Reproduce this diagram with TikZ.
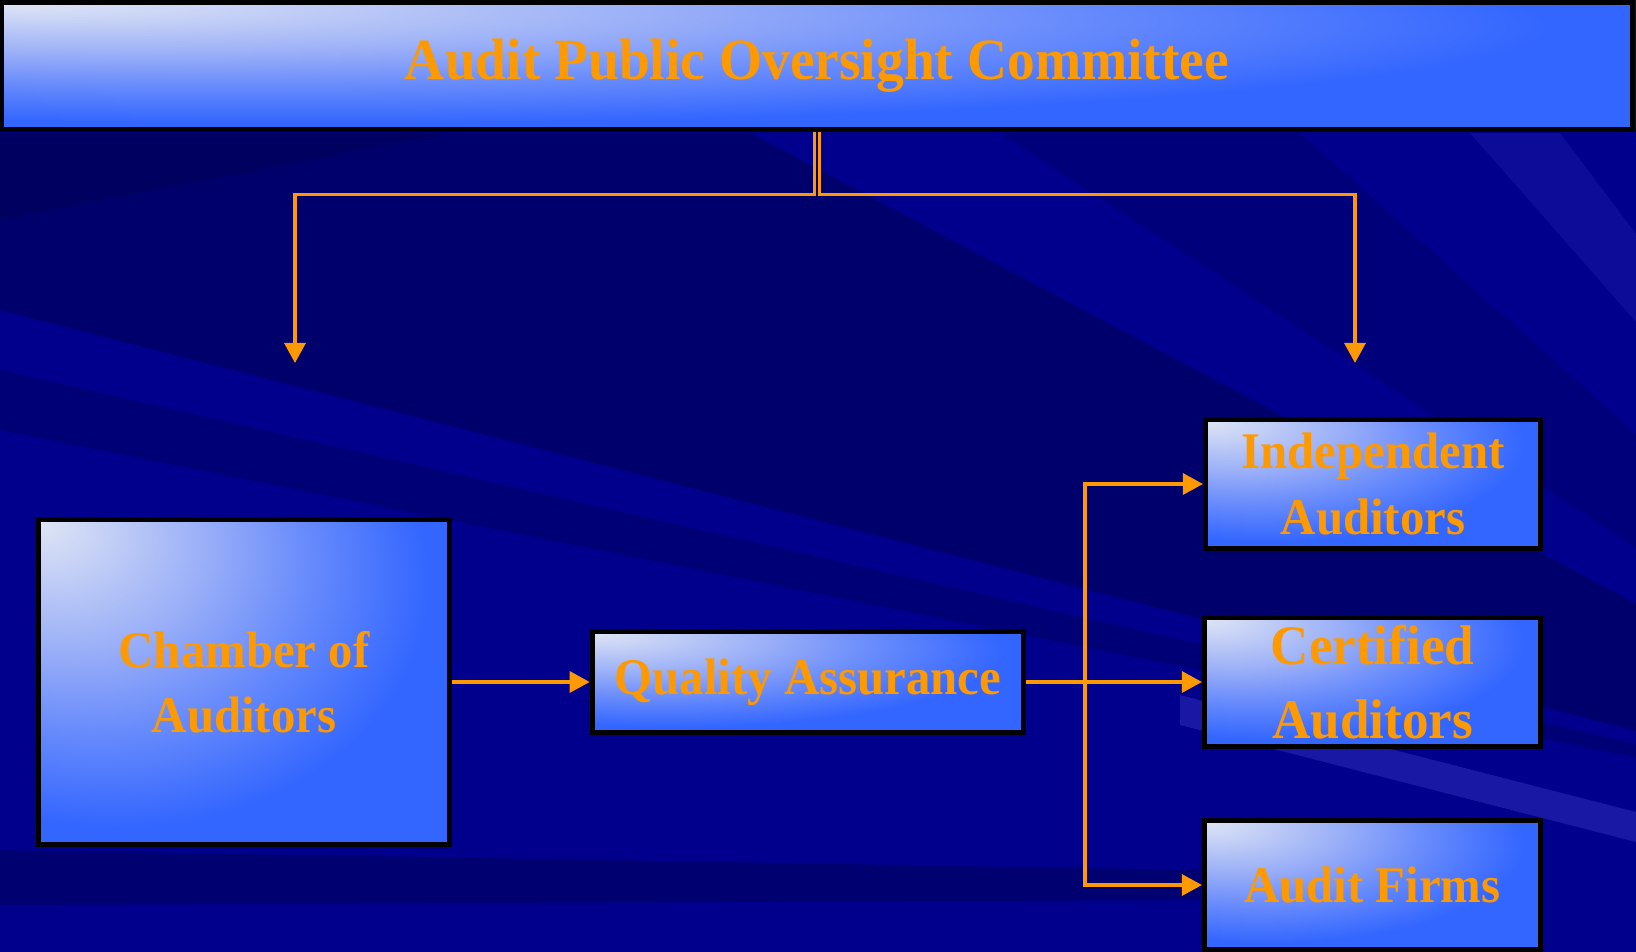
\documentclass[tikz,border=0pt]{standalone}
\usepackage{fontspec}
\setmainfont{Liberation Serif}[FakeStretch=0.95]
\usepackage{tikz}
\usetikzlibrary{arrows.meta}
\definecolor{bgnavy}{RGB}{0,0,140}
\definecolor{bgdeep}{RGB}{0,0,70}
\definecolor{bgpale}{RGB}{30,30,170}
\definecolor{gradlight}{RGB}{224,230,245}
\definecolor{gradsoft}{RGB}{150,172,248}
\definecolor{gradmid}{RGB}{105,140,252}
\definecolor{gradblue}{RGB}{51,102,255}
\definecolor{lineorange}{RGB}{255,153,0}
\pgfdeclareradialshading{boxfade}{\pgfpoint{-25bp}{25bp}}{color(0bp)=(gradlight); color(17bp)=(gradsoft); color(26bp)=(gradmid); color(38bp)=(gradblue); color(100bp)=(gradblue)}
\tikzset{box/.style={draw=black, line width=1.4pt, shading=boxfade, inner sep=0pt, align=center, text=lineorange, font=\bfseries\fontsize{14.6}{18.5}\selectfont}}
\tikzset{big/.style={font=\bfseries\fontsize{15.9}{21}\selectfont}}
\tikzset{head/.style={font=\bfseries\fontsize{16.6}{20}\selectfont}}
\tikzset{link/.style={draw=lineorange, line width=0.9pt, -{Triangle[length=0.2cm,width=0.21cm]}}}

\begin{document}
\begin{tikzpicture}[x=0.01cm, y=-0.01cm]
          \useasboundingbox (0,0) rectangle (1636,952);
          % background rays
          \fill[bgnavy] (0,0) rectangle (1636,952);
          \coordinate (glow) at (2100,850);
          \fill[bgdeep, opacity=0.45] (glow) -- (0,310) -- (0,133) -- (750,133) -- cycle;
          \fill[bgdeep, opacity=0.3] (0,133) -- (450,133) -- (0,220) -- cycle;
          \fill[bgdeep, opacity=0.25] (glow) -- (1000,133) -- (1300,133) -- cycle;
          \fill[bgdeep, opacity=0.3] (glow) -- (0,370) -- (0,430) -- cycle;
          \fill[bgpale, opacity=0.4] (glow) -- (1470,133) -- (1560,133) -- cycle;
          \fill[bgdeep, opacity=0.4] (0,850) -- (1200,870) -- (1200,900) -- (0,905) -- cycle;
          \fill[bgpale, opacity=0.8] (1180,695) -- (1636,812) -- (1636,842) -- (1180,725) -- cycle;
          % boxes
          \node[box, head, minimum width=16.295cm, minimum height=1.275cm] (apoc) at (817,66) {Audit Public Oversight Committee};
          \node[box, minimum width=4.105cm, minimum height=3.24cm] (chamber) at (244,682) {Chamber of\\Auditors};
          \node[box, minimum width=4.315cm, minimum height=1.005cm] (qa) at (808,682) {Quality Assurance};
          \node[box, minimum width=3.35cm, minimum height=1.29cm] (indep) at (1373,484) {Independent\\Auditors};
          \node[box, big, minimum width=3.36cm, minimum height=1.28cm] (cert) at (1372.5,682) {Certified\\Auditors};
          \node[box, minimum width=3.36cm, minimum height=1.29cm] (firms) at (1372.5,885) {Audit Firms};
          \coordinate (leftEnd) at (295,363);
          \coordinate (rightEnd) at (1355,363);
          \coordinate (fork) at (1085,682);
          % connectors
          \draw[link] ([xshift=-0.025cm]apoc.south) -- ++(0,62) -| (leftEnd);
          \draw[link] ([xshift=0.025cm]apoc.south) -- ++(0,62) -| (rightEnd);
          \draw[link] (chamber.east) -- (qa.west);
          \draw[link] (qa.east) -- (cert.west);
          \draw[link] (fork) |- (indep.west);
          \draw[link] (fork) |- (firms.west);
        \end{tikzpicture}
\end{document}
